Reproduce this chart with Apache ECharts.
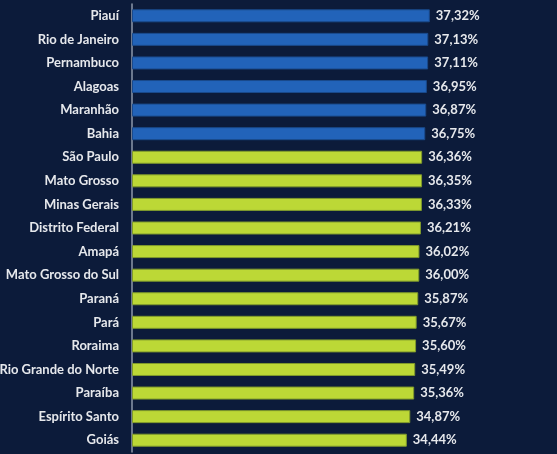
<!DOCTYPE html>
<html>
<head>
<meta charset="utf-8">
<script src="https://cdn.jsdelivr.net/npm/echarts@6/dist/echarts.min.js"></script>
<style>
  html, body { margin: 0; padding: 0; background: #0c1b3a; }
  #chart { width: 557px; height: 454px; }
</style>
</head>
<body>
<div id="chart"></div>
<script>
// estados, de cima para baixo
const ESTADOS = [
  'Piauí', 'Rio de Janeiro', 'Pernambuco', 'Alagoas', 'Maranhão', 'Bahia',
  'São Paulo', 'Mato Grosso', 'Minas Gerais', 'Distrito Federal', 'Amapá',
  'Mato Grosso do Sul', 'Paraná', 'Pará', 'Roraima', 'Rio Grande do Norte',
  'Paraíba', 'Espírito Santo', 'Goiás'
];
const VALORES = [
  37.32, 37.13, 37.11, 36.95, 36.87, 36.75,
  36.36, 36.35, 36.33, 36.21, 36.02,
  36.00, 35.87, 35.67, 35.60, 35.49,
  35.36, 34.87, 34.44
];
// quantos do topo ficam em azul
const DESTAQUE = 6;

const chart = echarts.init(document.getElementById('chart'));
chart.setOption({
  backgroundColor: '#0c1b3a',
  animation: false,
  grid: { left: 132, right: 26, top: 4, bottom: 2, containLabel: false, outerBoundsMode: 'none' },
  xAxis: {
    type: 'value',
    min: 0,
    max: 50,
    show: false
  },
  yAxis: {
    type: 'category',
    inverse: true,
    data: ESTADOS,
    axisLine: { show: true, lineStyle: { color: '#8d98ab', width: 1.5 } },
    axisTick: { show: false },
    axisLabel: {
      color: '#e6e8ec',
      fontFamily: 'Lato',
      fontWeight: 'bold',
      fontSize: 13,
      margin: 13
    }
  },
  series: [{
    type: 'bar',
    barWidth: 13,
    data: VALORES.map((v, i) => ({
      value: v,
      itemStyle: i < DESTAQUE
        ? { color: '#2263b9', borderColor: '#1a4a8c', borderWidth: 1 }
        : { color: '#bcd836', borderColor: '#7f9a2c', borderWidth: 1 }
    })),
    label: {
      show: true,
      position: 'right',
      distance: 6,
      color: '#e6e8ec',
      fontFamily: 'Lato',
      fontWeight: 'bold',
      fontSize: 13,
      formatter: p => p.value.toFixed(2).replace('.', ',') + '%'
    }
  }]
});
window.addEventListener('resize', () => chart.resize());
</script>
</body>
</html>
